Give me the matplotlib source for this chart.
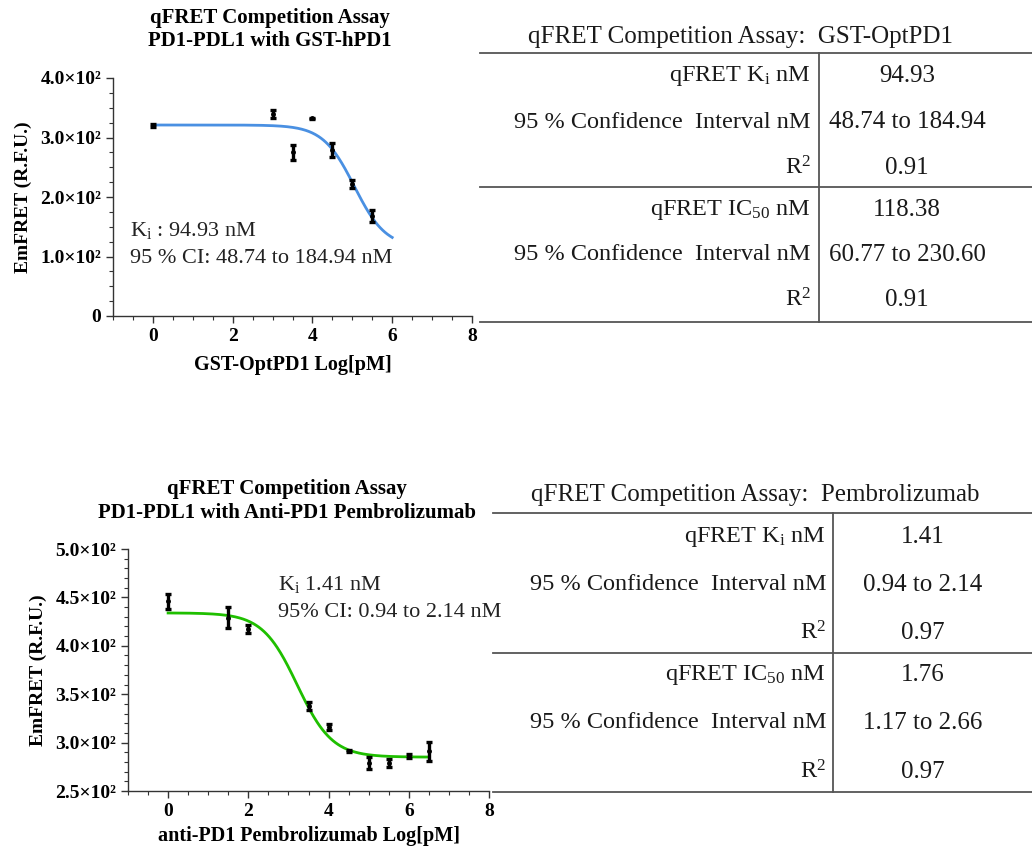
import numpy as np
import matplotlib
matplotlib.use("Agg")
import matplotlib.pyplot as plt
from matplotlib.ticker import FixedLocator, MultipleLocator

plt.rcParams['font.family'] = ['Liberation Serif', 'DejaVu Serif']
plt.rcParams['mathtext.fontset'] = 'custom'
plt.rcParams['mathtext.rm'] = 'Liberation Serif'
plt.rcParams['mathtext.it'] = 'Liberation Serif:italic'
plt.rcParams['mathtext.bf'] = 'Liberation Serif:bold'

# ---------------- data: GST-OptPD1 ----------------
opt_logx = [0, 3, 3.5, 4, 4.5, 5, 5.5]
opt_y = [320, 340, 275, 332, 279, 222, 168]
opt_err = [3, 7, 13, 1, 11, 7, 10]
# fitted 4PL curve parameters (top, bottom, logIC50, hill)
opt_fit = dict(top=321, bottom=115, logc=5.05, hill=1.1, xmin=0, xmax=6)

# ---------------- data: Pembrolizumab ----------------
pem_logx = [0, 1.5, 2, 3.5, 4, 4.5, 5, 5.5, 6, 6.5]
pem_y = [446, 429, 417, 338, 316, 291, 279, 279, 286, 291]
pem_err = [8, 11, 4, 4, 3, 1, 6, 4, 2, 10]
pem_fit = dict(top=434, bottom=285, logc=3.22, hill=1.0, xmin=0, xmax=6.5)

# ---------------- table contents ----------------
opt_title = "qFRET Competition Assay:  GST-OptPD1"
pem_title = "qFRET Competition Assay:  Pembrolizumab"
row_labels = [r"qFRET K$_{\mathrm{i}}$ nM", "95 % Confidence  Interval nM", r"R$^{2}$",
              r"qFRET IC$_{50}$ nM", "95 % Confidence  Interval nM", r"R$^{2}$"]
opt_values = ["94.93", "48.74 to 184.94", "0.91", "118.38", "60.77 to 230.60", "0.91"]
pem_values = ["1.41", "0.94 to 2.14", "0.97", "1.76", "1.17 to 2.66", "0.97"]

W, H = 1032, 850
fig = plt.figure(figsize=(W / 100, H / 100), dpi=100)


def fx(px):
    return px / W


def fy(py):
    return 1 - py / H


def four_pl(x, p):
    return p['bottom'] + (p['top'] - p['bottom']) / (1 + 10 ** (p['hill'] * (x - p['logc'])))


def style_axes(ax):
    for s in ['top', 'right']:
        ax.spines[s].set_visible(False)
    for s in ['left', 'bottom']:
        ax.spines[s].set_color('#333333')
        ax.spines[s].set_linewidth(1.0)
    ax.tick_params(axis='both', which='major', direction='out', length=5, width=1,
                   colors='#333333', labelcolor='black', labelsize=14)
    ax.tick_params(axis='both', which='minor', direction='out', length=3, width=0.8,
                   colors='#333333')
    for lab in ax.get_xticklabels() + ax.get_yticklabels():
        lab.set_fontweight('bold')


def sci_label(v):
    if v == 0:
        return "0"
    return f"{v / 100:.1f}×10²"


def make_plot(rect, xs, ys, errs, fit, color, ylim, ymajor, yminor, title, title_xy,
              xlabel, xlabel_y):
    ax = fig.add_axes(rect)
    xx = np.linspace(fit['xmin'], fit['xmax'], 300)
    ax.plot(xx, four_pl(xx, fit), color=color, lw=2.0, zorder=2)
    ax.errorbar(xs, ys, yerr=errs, fmt='o', ms=2.5, color='black', ecolor='black',
                elinewidth=2.4, capsize=2.5, capthick=2.4, zorder=3)
    ax.set_xlim(-1, 8)
    ax.set_ylim(*ylim)
    ax.xaxis.set_major_locator(FixedLocator([0, 2, 4, 6, 8]))
    ax.xaxis.set_minor_locator(MultipleLocator(0.5))
    yt = list(np.arange(ylim[0], ylim[1] + 1, ymajor))
    ax.yaxis.set_major_locator(FixedLocator(yt))
    ax.yaxis.set_minor_locator(MultipleLocator(yminor))
    ax.set_yticklabels([sci_label(v) for v in yt])
    style_axes(ax)
    fig.text(fx(title_xy[0]), fy(title_xy[1]), title, fontsize=15, fontweight='bold',
             ha='center', va='center', linespacing=1.2)
    cx = (rect[0] + rect[0] + rect[2]) / 2
    fig.text(cx, fy(xlabel_y), xlabel, fontsize=14.5, fontweight='bold',
             ha='center', va='center')
    ax.set_ylabel("EmFRET (R.F.U.)", fontsize=14, fontweight='bold', labelpad=6)
    return ax


ax1 = make_plot([fx(113), fy(316), fx(472) - fx(113), fy(78) - fy(316)],
                opt_logx, opt_y, opt_err, opt_fit, '#4a90e2', (0, 400), 100, 25,
                "qFRET Competition Assay\nPD1-PDL1 with GST-hPD1", (270, 30),
                "GST-OptPD1 Log[pM]", 365)
ax1.text(-0.58, 144, r"K$_{\mathrm{i}}$ : 94.93 nM", fontsize=16, color='#222222', va='center')
ax1.text(-0.58, 97, "95 % CI: 48.74 to 184.94 nM", fontsize=16, color='#222222', va='center')

ax2 = make_plot([fx(128), fy(791), fx(489) - fx(128), fy(549) - fy(791)],
                pem_logx, pem_y, pem_err, pem_fit, '#1fbf00', (250, 500), 50, 10,
                "qFRET Competition Assay\nPD1-PDL1 with Anti-PD1 Pembrolizumab", (287, 501),
                "anti-PD1 Pembrolizumab Log[pM]", 836)
ax2.text(2.75, 463, r"K$_{\mathrm{i}}$ 1.41 nM", fontsize=16, color='#222222', va='center')
ax2.text(2.75, 434, "95% CI: 0.94 to 2.14 nM", fontsize=16, color='#222222', va='center')


def draw_table(title, title_x, title_y, x0, x_div, top, mid, bottom, rows_y,
               label_right, value_center, labels, values):
    lc = '#555555'
    fig.text(fx(title_x), fy(title_y), title, fontsize=18, ha='center', va='center',
             color='#1a1a1a')
    for yy in (top, mid, bottom):
        fig.add_artist(plt.Line2D([fx(x0), 1], [fy(yy), fy(yy)], color=lc, lw=1.3))
    fig.add_artist(plt.Line2D([fx(x_div), fx(x_div)], [fy(top), fy(bottom)], color=lc, lw=1.3))
    for lab, val, ry in zip(labels, values, rows_y):
        fig.text(fx(label_right), fy(ry), lab, fontsize=17.5, ha='right', va='center',
                 color='#1a1a1a')
        fig.text(fx(value_center), fy(ry), val, fontsize=18, ha='center', va='center',
                 color='#1a1a1a')


draw_table(opt_title, 740, 37, 480, 819, 53, 187, 322,
           [76, 122, 168, 210, 255, 300], 811, 907, row_labels, opt_values)
draw_table(pem_title, 755, 495, 493, 833, 513, 653, 792,
           [537, 585, 633, 675, 723, 772], 826, 923, row_labels, pem_values)

fig.savefig("out.png", dpi=100, facecolor='white')
